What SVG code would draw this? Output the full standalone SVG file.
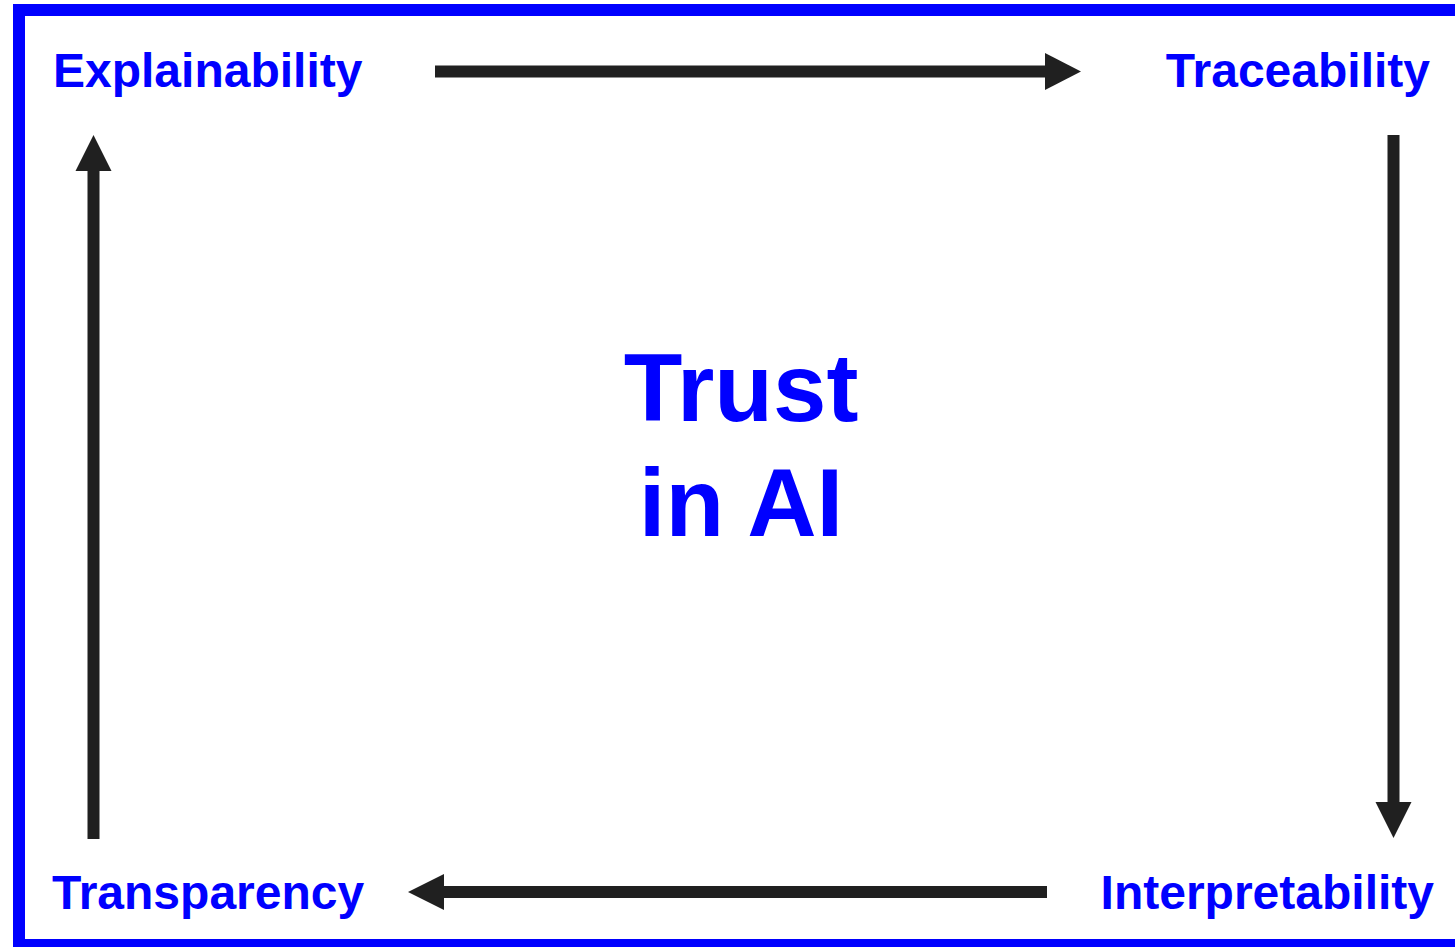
<svg xmlns="http://www.w3.org/2000/svg" width="1455" height="947" viewBox="0 0 1455 947">
<style>
.lbl{font-family:"Liberation Sans",Arial,sans-serif;font-weight:bold;font-size:48px;fill:#0000FF}
.ctr{font-family:"Liberation Sans",Arial,sans-serif;font-weight:bold;font-size:96px;fill:#0000FF;text-anchor:middle}
.shaft{stroke:#202020;stroke-width:12;fill:none}
.head{fill:#202020}
</style>
<rect x="0" y="0" width="1455" height="947" fill="#FFFFFF"/>
<rect x="19" y="10" width="1460" height="935" fill="none" stroke="#0000FF" stroke-width="12"/>
<g id="center">
<text class="ctr" x="741" y="421">Trust</text>
<text class="ctr" x="741" y="536">in AI</text>
</g>
<g id="explainability"><text class="lbl" x="53" y="87">Explainability</text></g>
<g id="traceability"><text class="lbl" x="1430" y="87" text-anchor="end">Traceability</text></g>
<g id="interpretability"><text class="lbl" x="1434" y="909" text-anchor="end">Interpretability</text></g>
<g id="transparency"><text class="lbl" x="52" y="909">Transparency</text></g>
<g id="connectors">
<line class="shaft" x1="435" y1="71.5" x2="1046" y2="71.5"/>
<polygon class="head" points="1045,53 1081,71.5 1045,90"/>
<line class="shaft" x1="1393.5" y1="135" x2="1393.5" y2="803"/>
<polygon class="head" points="1375.5,802 1411.5,802 1393.5,838"/>
<line class="shaft" x1="1047" y1="892" x2="443" y2="892"/>
<polygon class="head" points="444,874 408,892 444,910"/>
<line class="shaft" x1="93.5" y1="839" x2="93.5" y2="170"/>
<polygon class="head" points="75.5,171 111.5,171 93.5,135"/>
</g>
</svg>
